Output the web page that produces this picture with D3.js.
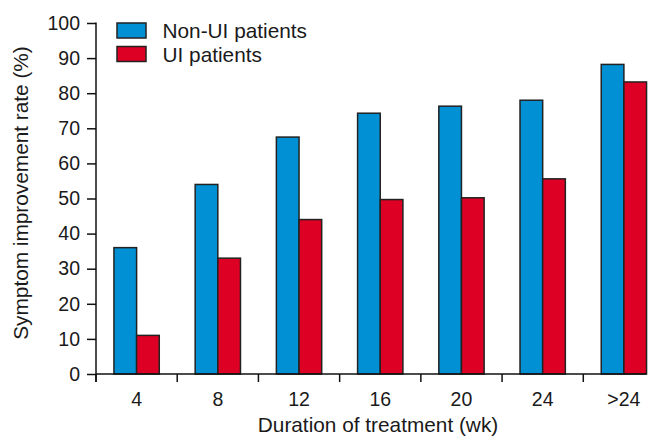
<!DOCTYPE html>
<html>
<head>
<meta charset="utf-8">
<script src="https://cdn.jsdelivr.net/npm/d3@7"></script>
<style>
  body { margin: 0; background: #fff; }
  text { font-family: "Liberation Sans", Arial, sans-serif; fill: #1a1a1a; }
</style>
</head>
<body>
<div id="chart"></div>
<script>
// data
const weeks = ["4", "8", "12", "16", "20", "24", ">24"];
const nonUI = [36, 54, 67.5, 74.3, 76.3, 78, 88.2];
const ui = [11, 33, 44, 49.7, 50.2, 55.6, 83.2];
const yTicks = [0, 10, 20, 30, 40, 50, 60, 70, 80, 90, 100];
const seriesNames = ["Non-UI patients", "UI patients"];
const colors = ["#0090d3", "#de0024"];

const W = 654, H = 436;
const plotLeft = 96, plotRight = 664.5, plotTop = 23, plotBottom = 374;
const fsTick = "19.5px", fsText = "20.8px";

const svg = d3.select("#chart")
  .append("svg")
    .attr("width", W)
    .attr("height", H);

// scales
const x = d3.scaleBand()
  .domain(weeks)
  .range([plotLeft, plotRight]);

// the two bars sit in the middle ~56% of each band
const inner = d3.scaleBand()
  .domain([0, 1])
  .range([x.bandwidth() * 0.221, x.bandwidth() * 0.779]);

const y = d3.scaleLinear()
  .domain([0, 100])
  .range([plotBottom, plotTop]);

// bars
const groups = svg.selectAll("g.grp")
  .data(weeks.map((w, i) => ({ w: w, vals: [nonUI[i], ui[i]] })))
  .join("g")
    .attr("class", "grp")
    .attr("transform", d => `translate(${x(d.w)},0)`);

groups.selectAll("rect")
  .data(d => d.vals.map((v, k) => ({ k: k, v: v })))
  .join("rect")
    .attr("x", d => inner(d.k))
    .attr("width", inner.bandwidth())
    .attr("y", d => y(d.v))
    .attr("height", d => y(0) - y(d.v))
    .attr("fill", d => colors[d.k])
    .attr("stroke", "#222")
    .attr("stroke-width", 1.5);

// y axis
const yAxis = svg.append("g")
  .attr("transform", `translate(${plotLeft},0)`)
  .call(d3.axisLeft(y).tickValues(yTicks).tickSize(9).tickPadding(7).tickSizeOuter(0));
yAxis.select(".domain").remove();
yAxis.selectAll(".tick line").attr("stroke", "#111").attr("stroke-width", 1.5);
yAxis.selectAll(".tick text").style("font-size", fsTick).attr("fill", "#1a1a1a");
yAxis.append("line")
  .attr("x1", 0).attr("x2", 0)
  .attr("y1", plotTop - 0.5).attr("y2", plotBottom + 8)
  .attr("stroke", "#111").attr("stroke-width", 1.5);

// x axis: ticks on band edges, labels in band centres
const xAxis = svg.append("g");
const lastRight = x(weeks[weeks.length - 1]) + inner(1) + inner.bandwidth();
xAxis.append("line")
  .attr("x1", plotLeft).attr("x2", lastRight)
  .attr("y1", plotBottom).attr("y2", plotBottom)
  .attr("stroke", "#111").attr("stroke-width", 1.5);
xAxis.selectAll("line.tk")
  .data(weeks)
  .join("line")
    .attr("class", "tk")
    .attr("x1", d => x(d)).attr("x2", d => x(d))
    .attr("y1", plotBottom).attr("y2", plotBottom + 8)
    .attr("stroke", "#111").attr("stroke-width", 1.5);
xAxis.selectAll("text")
  .data(weeks)
  .join("text")
    .attr("x", d => x(d) + x.bandwidth() / 2)
    .attr("y", 405.5)
    .attr("text-anchor", "middle")
    .style("font-size", fsTick)
    .text(d => d);

// axis titles
svg.append("text")
  .attr("x", 378)
  .attr("y", 431.5)
  .attr("text-anchor", "middle")
  .style("font-size", fsText)
  .text("Duration of treatment (wk)");

svg.append("text")
  .attr("transform", "translate(28,193) rotate(-90)")
  .attr("text-anchor", "middle")
  .style("font-size", fsText)
  .text("Symptom improvement rate (%)");

// legend
const legend = svg.selectAll("g.leg")
  .data(seriesNames)
  .join("g")
    .attr("class", "leg")
    .attr("transform", (d, i) => `translate(117,${23 + i * 23.5})`);
legend.append("rect")
  .attr("width", 29)
  .attr("height", 15)
  .attr("fill", (d, i) => colors[i])
  .attr("stroke", "#222")
  .attr("stroke-width", 1.5);
legend.append("text")
  .attr("x", 45.5)
  .attr("y", 15.3)
  .style("font-size", fsText)
  .text(d => d);
</script>
</body>
</html>
